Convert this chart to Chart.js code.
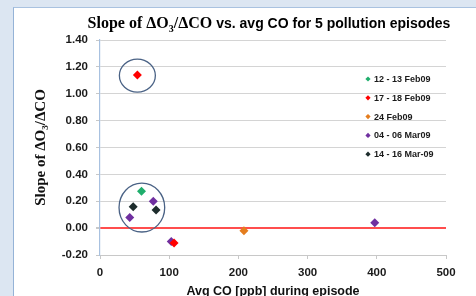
<!DOCTYPE html>
<html>
<head>
<meta charset="utf-8">
<script src="https://cdn.jsdelivr.net/npm/chart.js@4/dist/chart.umd.min.js"></script>
<style>
  html, body { margin:0; padding:0; width:476px; height:296px; overflow:hidden; background:#dce6f2; }
  #pannello { position:absolute; left:13px; top:7px; right:0; bottom:0; background:#fff;
              border-left:1.5px solid #95b3d7; border-top:1.5px solid #a9c2e0; }
  #wrap { position:absolute; left:0; top:0; width:476px; height:296px; }
</style>
</head>
<body>
<div id="pannello"></div>
<div id="wrap"><canvas id="grafico" width="476" height="296"></canvas></div>
<script>
// serie: CO medio [ppb] e pendenza dO3/dCO
const nomiSerie = ['12 - 13 Feb09', '17 - 18 Feb09', '24 Feb09', '04 - 06 Mar09', '14 - 16 Mar-09'];
const coloriSerie = ['#1fae6c', '#ff0000', '#e47d1e', '#7030a0', '#1e2d2d'];

const co1213Feb   = [60];
const slope1213Feb = [0.275];
const co1718Feb   = [54, 107];
const slope1718Feb = [1.14, -0.11];
const co24Feb     = [208];
const slope24Feb  = [-0.02];
const co0406Mar   = [43, 77, 103, 397];
const slope0406Mar = [0.08, 0.20, -0.10, 0.04];
const co1416Mar   = [48, 81];
const slope1416Mar = [0.16, 0.135];

// tick assi
const yTicks = [-0.2, 0, 0.2, 0.4, 0.6, 0.8, 1.0, 1.2, 1.4];
const xTicks = [0, 100, 200, 300, 400, 500];

// ellissi disegnate a mano nel grafico (centro e raggi in unità dati)
const ellCentriX = [54, 60.5];
const ellCentriY = [1.135, 0.153];
const ellRaggiX  = [26, 33];
const ellRaggiY  = [0.123, 0.182];

const coSerie = [co1213Feb, co1718Feb, co24Feb, co0406Mar, co1416Mar];
const slopeSerie = [slope1213Feb, slope1718Feb, slope24Feb, slope0406Mar, slope1416Mar];

const datasets = nomiSerie.map((nome, i) => ({
  label: nome,
  data: coSerie[i].map((x, j) => ({ x, y: slopeSerie[i][j] })),
  backgroundColor: coloriSerie[i],
  borderColor: coloriSerie[i],
  pointStyle: 'rectRot',
  pointRadius: 4.5,
  pointBorderWidth: 0
}));

const grigio = '#c8c8c8';

// ellissi attorno ai gruppi di punti
const ellissiPlugin = {
  id: 'ellissi',
  afterDatasetsDraw(chart) {
    const { ctx, scales: { x, y } } = chart;
    ctx.save();
    ctx.strokeStyle = '#4a6285';
    ctx.lineWidth = 1.3;
    ellCentriX.forEach((cx, i) => {
      const px = x.getPixelForValue(cx), py = y.getPixelForValue(ellCentriY[i]);
      const rx = Math.abs(x.getPixelForValue(cx + ellRaggiX[i]) - px);
      const ry = Math.abs(y.getPixelForValue(ellCentriY[i] + ellRaggiY[i]) - py);
      ctx.beginPath();
      ctx.ellipse(px, py, rx, ry, 0, 0, Math.PI * 2);
      ctx.stroke();
    });
    ctx.restore();
  }
};

// legenda dentro l'area del grafico, a destra
const legendaPlugin = {
  id: 'legendaInterna',
  afterDraw(chart) {
    const ctx = chart.ctx;
    ctx.save();
    ctx.font = 'bold 9px "Liberation Sans", Arial, sans-serif';
    ctx.textBaseline = 'middle';
    chart.data.datasets.forEach((ds, i) => {
      const yy = 79 + i * 18.8;
      ctx.fillStyle = ds.backgroundColor;
      ctx.beginPath();
      ctx.moveTo(368, yy - 2.6); ctx.lineTo(370.6, yy); ctx.lineTo(368, yy + 2.6); ctx.lineTo(365.4, yy);
      ctx.closePath(); ctx.fill();
      ctx.fillStyle = '#1a1a1a';
      ctx.fillText(ds.label, 374, yy + 0.5);
    });
    ctx.restore();
  }
};

// titolo con due font (parte serif + parte sans) e pedice
const titoloPlugin = {
  id: 'titoloMisto',
  afterDraw(chart) {
    const ctx = chart.ctx;
    const fSerif = 'bold 16px "Liberation Serif", "Times New Roman", serif';
    const fSub = 'bold 10px "Liberation Serif", "Times New Roman", serif';
    const fSans = 'bold 14px "Liberation Sans", Arial, sans-serif';
    const parti = [
      { t: 'Slope of \u0394O', f: fSerif, dy: 0 },
      { t: '3', f: fSub, dy: 4 },
      { t: '/\u0394CO ', f: fSerif, dy: 0 },
      { t: 'vs. avg CO for 5 pollution episodes', f: fSans, dy: 0 }
    ];
    ctx.save();
    let tot = 0;
    parti.forEach(p => { ctx.font = p.f; p.w = ctx.measureText(p.t).width; tot += p.w; });
    let xx = 269 - tot / 2;
    const base = 28;
    ctx.fillStyle = '#000';
    ctx.textBaseline = 'alphabetic';
    parti.forEach(p => { ctx.font = p.f; ctx.fillText(p.t, xx, base + p.dy); xx += p.w; });
    ctx.restore();
  }
};

new Chart(document.getElementById('grafico'), {
  type: 'scatter',
  data: { datasets },
  options: {
    responsive: false,
    animation: false,
    layout: { padding: { left: 13, top: 40, right: 30, bottom: 0 } },
    plugins: { legend: { display: false }, title: { display: false }, tooltip: { enabled: false } },
    scales: {
      x: {
        type: 'linear', min: 0, max: 500,
        afterFit: s => { s.height = 41; },
        afterBuildTicks: s => { s.ticks = xTicks.map(v => ({ value: v })); },
        ticks: { padding: 7, color: '#1a1a1a', font: { family: '"Liberation Sans", Arial, sans-serif', size: 11.5, weight: 'bold' } },
        grid: { drawOnChartArea: false, drawTicks: true, tickLength: 4, tickColor: grigio, color: grigio },
        border: { color: grigio, width: 1 },
        title: { display: true, text: 'Avg CO [ppb] during episode', color: '#111',
                 font: { family: '"Liberation Sans", Arial, sans-serif', size: 12.5, weight: 'bold' },
                 padding: { top: 0, bottom: -3 } }
      },
      y: {
        type: 'linear', min: -0.2, max: 1.4,
        afterFit: s => { s.width = 87; },
        afterBuildTicks: s => { s.ticks = yTicks.map(v => ({ value: v })); },
        ticks: { padding: 8, color: '#1a1a1a', callback: v => v.toFixed(2),
                 font: { family: '"Liberation Sans", Arial, sans-serif', size: 11.5, weight: 'bold' } },
        grid: {
          tickLength: 4, tickColor: grigio,
          color: c => (c.tick && c.tick.value === 0) ? '#ff4d4d' : '#d4d4d4',
          lineWidth: c => (c.tick && c.tick.value === 0) ? 2 : 1
        },
        border: { color: '#a8c1e0', width: 1.2 },
        title: { display: true, text: 'Slope of \u0394O\u2083/\u0394CO', color: '#111',
                 font: { family: '"Liberation Serif", "Times New Roman", serif', size: 15, weight: 'bold' },
                 padding: { top: 19, bottom: 0 } }
      }
    }
  },
  plugins: [ellissiPlugin, legendaPlugin, titoloPlugin]
});
</script>
</body>
</html>
